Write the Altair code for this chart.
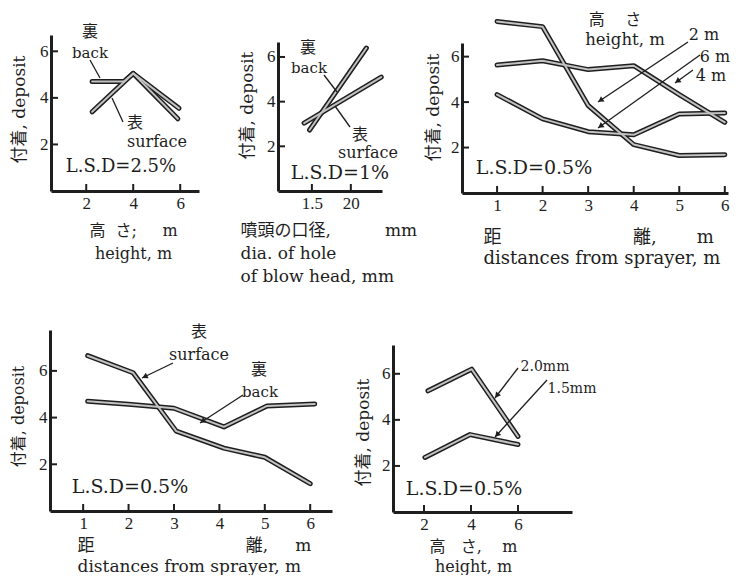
import math
import altair as alt
import pandas as pd

# ------------------------------------------------------------------ data
# panel 1 : deposit vs height (back / surface)
p1_x_back = [2.25, 3.6, 4.0, 5.95]
p1_y_back = [4.7, 4.7, 5.05, 3.55]
p1_x_surface = [2.25, 4.0, 5.9]
p1_y_surface = [3.4, 5.05, 3.1]

# panel 2 : deposit vs dia. of hole of blow head
p2_x_back = [1.47, 2.2]
p2_y_back = [2.73, 6.4]
p2_x_surface = [1.4, 2.39]
p2_y_surface = [3.04, 5.1]

# panel 3 : deposit vs distance from sprayer, by height
p3_x = [1, 2, 3, 4, 5, 6]
p3_y_2m = [7.55, 7.32, 3.85, 2.13, 1.65, 1.68]
p3_y_4m = [5.63, 5.82, 5.43, 5.6, 4.33, 3.11]
p3_y_6m = [4.33, 3.26, 2.7, 2.56, 3.48, 3.52]

# panel 4 : deposit vs distance from sprayer (surface / back)
p4_x_surface = [1.1, 2.1, 3.05, 4.1, 5.0, 6.0]
p4_y_surface = [6.65, 5.92, 3.42, 2.69, 2.3, 1.17]
p4_x_back = [1.1, 2.0, 3.0, 4.1, 5.05, 6.1]
p4_y_back = [4.7, 4.57, 4.4, 3.6, 4.5, 4.58]

# panel 5 : deposit vs height, by hole diameter
p5_x_20 = [2.17, 4.03, 6.0]
p5_y_20 = [5.26, 6.2, 3.28]
p5_x_15 = [2.04, 3.96, 6.0]
p5_y_15 = [2.37, 3.36, 2.93]

y_ticks = [2, 4, 6]
p1_x_ticks = [2, 4, 6]
p2_x_ticks = [1.5, 2.0]
p2_x_tick_labels = ["1.5", "20"]
p3_x_ticks = [1, 2, 3, 4, 5, 6]
p4_x_ticks = [1, 2, 3, 4, 5, 6]
p5_x_ticks = [2, 4, 6]

NB = "\u00a0"
y_title = "付着," + NB + "deposit"

# ------------------------------------------------------------------ layout / style
M = 8
W, H = 723, 567
TICKF = "Liberation Serif"
FONT = "DejaVu Serif, Noto Sans CJK JP"
INK = "#1e1e1e"
FILL = "#c2c2c2"


def lines_df(series):
    rows = []
    for name, xs, ys in series:
        for i, (a, b) in enumerate(zip(xs, ys)):
            rows.append({"s": name, "x": a, "y": b, "o": i})
    return pd.DataFrame(rows)


def panel(df, g):
    """Returns a flat list of layers; each layer gets an identical scale definition."""
    def xs():
        return alt.Scale(domain=g["xdom"], range=[g["left"] - M, g["right"] - M], nice=False, zero=False)

    def ys():
        return alt.Scale(domain=g["ydom"], range=[g["bottom"] - M, g["top"] - M], nice=False, zero=False)

    xkw = dict(
        orient="bottom", offset=(g["bottom"] - M) - H, values=g["xt"], grid=False, ticks=False,
        domainColor=INK, domainWidth=3, labelFont=TICKF, labelFontSize=17, labelColor=INK,
        labelPadding=4, title=g["xtitle"], titleFont=FONT, titleFontSize=g["xfs"],
        titleFontWeight="normal", titleColor=INK, titleX=g["xtx"] - M, titleY=g["xty"] - g["bottom"],
        titleAlign=g["xalign"], titleBaseline="middle", titleLineHeight=g["xlh"], titleAngle=0,
    )
    if "xlabelexpr" in g:
        xkw["labelExpr"] = g["xlabelexpr"]
    xaxis = alt.Axis(**xkw)
    yaxis = alt.Axis(
        orient="left", offset=-(g["left"] - M), values=y_ticks, grid=False, ticks=False,
        domainColor=INK, domainWidth=3, labelFont=TICKF, labelFontSize=17, labelColor=INK,
        labelPadding=3, title=y_title, titleFont=FONT, titleFontSize=g["yfs"],
        titleFontWeight="normal", titleColor=INK, titleX=g["ytx"] - g["left"],
        titleY=g["yty"] - M, titleAngle=270, titleAlign="center", titleBaseline="middle",
    )
    base = alt.Chart(df)
    outline = base.mark_line(color=INK, strokeWidth=5, strokeJoin="round", strokeCap="round").encode(
        x=alt.X("x:Q", scale=xs(), axis=xaxis), y=alt.Y("y:Q", scale=ys(), axis=yaxis),
        detail="s:N", order="o:Q")
    inner = base.mark_line(color=FILL, strokeWidth=2, strokeJoin="round", strokeCap="round").encode(
        x=alt.X("x:Q", scale=xs(), axis=None), y=alt.Y("y:Q", scale=ys(), axis=None),
        detail="s:N", order="o:Q")
    # inward tick marks, placed through the panel's scales
    xt = alt.Chart(pd.DataFrame({"v": g["xt"]})).mark_rule(color=INK, strokeWidth=2).encode(
        x=alt.X("v:Q", scale=xs(), axis=None),
        y=alt.value(g["bottom"] - M), y2=alt.value(g["bottom"] - M - 7))
    yt = alt.Chart(pd.DataFrame({"v": y_ticks})).mark_rule(color=INK, strokeWidth=2).encode(
        y=alt.Y("v:Q", scale=ys(), axis=None),
        x=alt.value(g["left"] - M), x2=alt.value(g["left"] - M + 7))
    return [outline, inner, xt, yt]


g1 = dict(xdom=[0.5, 6.8], left=51, right=199, ydom=[0, 6.7], bottom=191, top=35, xt=p1_x_ticks,
          xtitle=["高" + NB * 2 + "さ;" + NB * 5 + "m", "height," + NB + "m"], xfs=16, xtx=133,
          xty=230, xalign="center", xlh=23, yfs=17, ytx=19, yty=109)
g2 = dict(xdom=[1.065, 2.4], left=278, right=382, ydom=[0, 6.67], bottom=191, top=42, xt=p2_x_ticks,
          xlabelexpr="datum.value == 2 ? '%s' : '%s'" % (p2_x_tick_labels[1], p2_x_tick_labels[0]),
          xtitle=["噴頭の口径," + NB * 10 + "mm", "dia." + NB + "of" + NB + "hole",
                  "of" + NB + "blow" + NB + "head," + NB + "mm"],
          xfs=17, xtx=240, xty=230, xalign="left", xlh=23, yfs=17, ytx=247, yty=105)
g3 = dict(xdom=[0.23, 6.07], left=462, right=728, ydom=[0, 6.6], bottom=193, top=43, xt=p3_x_ticks,
          xtitle=["距" + NB * 23 + "離," + NB * 7 + "m",
                  "distances" + NB + "from" + NB + "sprayer," + NB + "m"],
          xfs=18, xtx=483, xty=237, xalign="left", xlh=21, yfs=17, ytx=433, yty=107)
g4 = dict(xdom=[0.27, 6.48], left=50, right=332, ydom=[0, 7.75], bottom=511, top=330, xt=p4_x_ticks,
          xtitle=["距" + NB * 28 + "離," + NB * 5 + "m",
                  "distances" + NB + "from" + NB + "sprayer," + NB + "m"],
          xfs=17, xtx=77, xty=545, xalign="left", xlh=21, yfs=16, ytx=18, yty=416)
g5 = dict(xdom=[0.68, 8.3], left=393, right=572, ydom=[0, 7.25], bottom=512, top=345, xt=p5_x_ticks,
          xtitle=["高" + NB * 3 + "さ," + NB * 4 + "m", "height," + NB + "m"],
          xfs=16, xtx=473, xty=546, xalign="center", xlh=20, yfs=17, ytx=363, yty=432)

layers = []
layers += panel(lines_df([("back", p1_x_back, p1_y_back), ("surface", p1_x_surface, p1_y_surface)]), g1)
layers += panel(lines_df([("back", p2_x_back, p2_y_back), ("surface", p2_x_surface, p2_y_surface)]), g2)
layers += panel(lines_df([("2 m", p3_x, p3_y_2m), ("4 m", p3_x, p3_y_4m), ("6 m", p3_x, p3_y_6m)]), g3)
layers += panel(lines_df([("surface", p4_x_surface, p4_y_surface), ("back", p4_x_back, p4_y_back)]), g4)
layers += panel(lines_df([("2.0mm", p5_x_20, p5_y_20), ("1.5mm", p5_x_15, p5_y_15)]), g5)

# annotations (page pixel centres)
LSD = "L.S.D=%s%%"
notes = [
    ("裏", 90, 32, 16), ("back", 90, 53, 15), ("表", 135, 123, 16), ("surface", 157, 142, 16),
    (LSD % "2.5", 121, 167, 18),
    ("裏", 308, 48, 16), ("back", 309, 68, 15), ("表", 360, 135, 16), ("surface", 368, 153, 16),
    (LSD % "1", 340, 173, 19),
    ("高" + NB * 4 + "さ", 615, 20, 16), ("height," + NB + "m", 625, 40, 16.5),
    ("2" + NB + "m", 704, 35, 16), ("6" + NB + "m", 715, 57, 16), ("4" + NB + "m", 711, 76, 16),
    (LSD % "0.5", 534, 168, 19),
    ("表", 199, 332, 16), ("surface", 199, 355, 16), ("裏", 259, 370, 16), ("back", 260, 392, 15),
    (LSD % "0.5", 130, 487, 19),
    ("2.0mm", 545, 367, 14), ("1.5mm", 572, 389, 14), (LSD % "0.5", 464, 489, 19),
]
note_df = pd.DataFrame([{"t": t, "px": x - M, "py": y - M, "fs": s} for t, x, y, s in notes])

plain = [((90, 60), (100, 78)), ((123, 122), (112, 98)), ((324, 75), (337, 92)), ((350, 127), (335, 106))]
arrows = [((688, 42), (598, 102)), ((700, 55), (598, 128)), ((693, 70), (675, 83)),
          ((173, 363), (142, 378)), ((243, 395), (200, 423)),
          ((518, 368), (495, 398)), ((547, 380), (495, 437))]
rule_df = pd.DataFrame([{"x1": a[0] - M, "y1": a[1] - M, "x2": b[0] - M, "y2": b[1] - M}
                        for a, b in plain + arrows])
heads = []
for a, b in arrows:
    dx, dy = b[0] - a[0], b[1] - a[1]
    L = math.hypot(dx, dy)
    ang = math.degrees(math.atan2(dx, -dy)) % 360
    heads.append({"hx": b[0] - 3 * dx / L - M, "hy": b[1] - 3 * dy / L - M, "ang": ang})
head_df = pd.DataFrame(heads)

texts = alt.Chart(note_df).mark_text(font=FONT, color=INK, align="center", baseline="middle").encode(
    x=alt.X("px:Q", scale=None, axis=None), y=alt.Y("py:Q", scale=None, axis=None),
    text="t:N", size=alt.Size("fs:Q", scale=None, legend=None))
rules = alt.Chart(rule_df).mark_rule(color=INK, strokeWidth=1.3).encode(
    x=alt.X("x1:Q", scale=None, axis=None), y=alt.Y("y1:Q", scale=None, axis=None),
    x2="x2:Q", y2="y2:Q")
heads_ch = alt.Chart(head_df).mark_point(shape="triangle-up", filled=True, color=INK, size=40,
                                         opacity=1).encode(
    x=alt.X("hx:Q", scale=None, axis=None), y=alt.Y("hy:Q", scale=None, axis=None),
    angle=alt.Angle("ang:Q", scale=None))

chart = (
    alt.layer(*layers, texts, rules, heads_ch)
    .resolve_scale(x="independent", y="independent")
    .properties(width=W, height=H, padding=0)
    .configure_view(stroke=None)
)

chart.save("out.html", embed_options={"renderer": "svg", "actions": False})
